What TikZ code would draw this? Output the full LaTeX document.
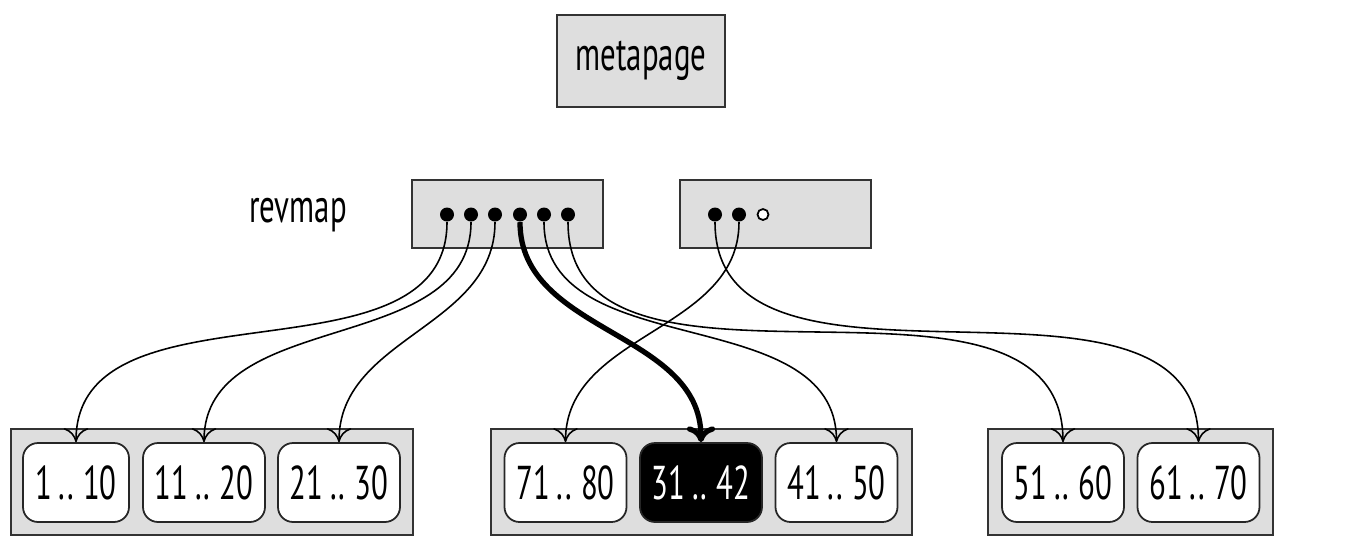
\documentclass[tikz,border=0pt]{standalone}
\usepackage{fontspec}
\setmainfont{PT Sans}[FakeStretch=0.65, WordSpace=0.8]
\usetikzlibrary{arrows.meta}

\begin{document}
\begin{tikzpicture}[
  page/.style={draw=black!80, fill=black!13, line width=0.6pt, inner sep=0pt},
  rangebox/.style={draw=black!85, fill=white, rounded corners=0.15cm, line width=0.5pt, minimum width=1.22cm, minimum height=0.79cm, inner sep=0pt},
  ptr/.style={circle, fill=black, inner sep=0pt, minimum size=0.14cm},
  nullptr/.style={circle, draw=black, fill=white, inner sep=0pt, minimum size=0.11cm, line width=0.5pt},
  link/.style={-{Computer Modern Rightarrow[length=4pt,width=7pt]}, line width=0.45pt, out=-90, in=90},
  hot/.style={-{Computer Modern Rightarrow[length=4.5pt,width=8pt]}, line width=1.5pt, out=-90, in=90},
  font=\fontsize{13.5}{16}\selectfont
]
\useasboundingbox (0,0) rectangle (13.7,-5.42);
\node[page, minimum width=1.68cm, minimum height=0.92cm] (meta) at (6.41,-0.61) {metapage};
\node (revlbl) at (2.98,-2.15) {revmap};
\node[page, minimum width=1.91cm, minimum height=0.68cm] (rev1) at (5.075,-2.14) {};
\node[page, minimum width=1.91cm, minimum height=0.68cm] (rev2) at (7.755,-2.14) {};
\foreach \x [count=\i] in {4.47,4.71,4.95,5.20,5.44,5.68}
  \node[ptr] (p\i) at (\x,-2.145) {};
\node[ptr] (q1) at (7.15,-2.145) {};
\node[ptr] (q2) at (7.39,-2.145) {};
\node[nullptr] (q3) at (7.63,-2.145) {};

\node[page, minimum width=4.02cm, minimum height=1.06cm] (g1) at (2.12,-4.82) {};
\node[page, minimum width=4.21cm, minimum height=1.06cm] (g2) at (7.015,-4.82) {};
\node[page, minimum width=2.85cm, minimum height=1.06cm] (g3) at (11.305,-4.82) {};
\node[rangebox, minimum width=1.06cm] (r1) at (0.76,-4.825) {1 .. 10};
\node[rangebox] (r11) at (2.04,-4.825) {11 .. 20};
\node[rangebox] (r21) at (3.39,-4.825) {21 .. 30};
\node[rangebox] (r71) at (5.655,-4.825) {71 .. 80};
\node[rangebox, fill=black, text=white] (r31) at (7.01,-4.825) {31 .. 42};
\node[rangebox] (r41) at (8.365,-4.825) {41 .. 50};
\node[rangebox] (r51) at (10.63,-4.825) {51 .. 60};
\node[rangebox] (r61) at (11.985,-4.825) {61 .. 70};

\draw[link] (p1) to (r1);
\draw[link] (p2) to (r11);
\draw[link] (p3) to (r21);
\draw[hot] (p4) to (r31);
\draw[link] (p5) to (r41);
\draw[link] (p6) to (r51);
\draw[link] (q1) to (r61);
\draw[link] (q2) to (r71);
\end{tikzpicture}
\end{document}
